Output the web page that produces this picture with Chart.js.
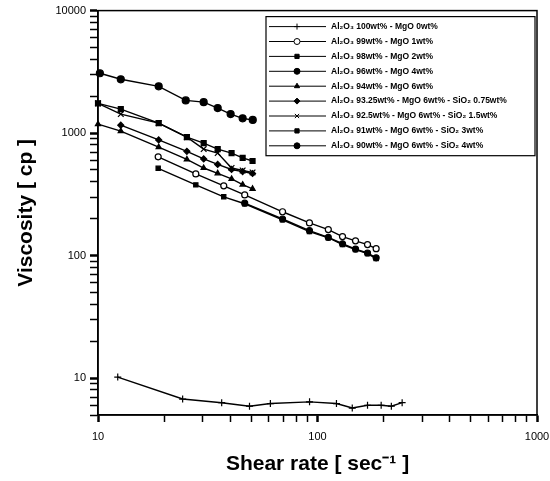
<!DOCTYPE html>
<html>
<head>
<meta charset="utf-8">
<script src="https://cdn.jsdelivr.net/npm/chart.js@4"></script>
<style>
  html, body { margin: 0; padding: 0; background: #fff; }
  #wrap { width: 550px; height: 481px; }
</style>
</head>
<body>
<div id="wrap"><canvas id="chart" width="550" height="481"></canvas></div>
<script>
// ------------------ Data ------------------
const seriesLabels = [
    "Al₂O₃ 100wt% - MgO 0wt%",
    "Al₂O₃ 99wt% - MgO 1wt%",
    "Al₂O₃ 98wt% - MgO 2wt%",
    "Al₂O₃ 96wt% - MgO 4wt%",
    "Al₂O₃ 94wt% - MgO 6wt%",
    "Al₂O₃ 93.25wt% - MgO 6wt% - SiO₂ 0.75wt%",
    "Al₂O₃ 92.5wt% - MgO 6wt% - SiO₂ 1.5wt%",
    "Al₂O₃ 91wt% - MgO 6wt% - SiO₂ 3wt%",
    "Al₂O₃ 90wt% - MgO 6wt% - SiO₂ 4wt%"
];

// shear rate [1/s]
const rate0 = [12.3, 24.3, 36.6, 49, 61, 92, 122, 144, 169, 195, 217, 243];
const rate1 = [18.8, 27.9, 37.4, 46.6, 69.3, 91.9, 112, 130, 149, 169, 185];
const rate2 = [18.8, 27.9, 37.4, 46.6, 69.3, 91.9, 112, 130, 149, 169, 185];
const rate3 = [46.6, 69.3, 91.9, 112, 130, 149, 169, 185];
const rate4 = [10, 12.7, 18.9, 25.4, 30.3, 35.1, 40.6, 45.6, 50.6];
const rate5 = [12.7, 18.9, 25.4, 30.3, 35.1, 40.6, 45.6, 50.6];
const rate6 = [10, 12.7, 18.9, 25.4, 30.3, 35.1, 40.6, 45.6, 50.6];
const rate7 = [10, 12.7, 18.9, 25.4, 30.3, 35.1, 40.6, 45.6, 50.6];
const rate8 = [10.2, 12.7, 18.9, 25.1, 30.3, 35.1, 40.2, 45.6, 50.7];

// viscosity [cp]
const visc0 = [10.2, 6.75, 6.3, 5.9, 6.2, 6.4, 6.2, 5.7, 6.0, 6.0, 5.9, 6.3];
const visc1 = [640, 464, 371, 313, 228, 185, 163, 143, 132, 123, 114];
const visc2 = [516, 378, 302, 265, 196, 157, 140, 123, 112, 104, 94.6];
const visc3 = [268, 199, 160, 141, 125, 113, 105, 96];
const visc4 = [1183, 1038, 769, 610, 519, 470, 423, 380, 351];
const visc5 = [1160, 880, 710, 615, 555, 505, 485, 468];
const visc6 = [1750, 1430, 1205, 927, 741, 687, 519, 495, 478];
const visc7 = [1750, 1570, 1205, 927, 829, 741, 687, 627, 592];
const visc8 = [3080, 2750, 2410, 1850, 1790, 1600, 1430, 1320, 1280];

const xTickLabels = [10, 100, 1000];
const yTickLabels = [10, 100, 1000, 10000];

const rates = [rate0, rate1, rate2, rate3, rate4, rate5, rate6, rate7, rate8];
const viscs = [visc0, visc1, visc2, visc3, visc4, visc5, visc6, visc7, visc8];

// marker per series
const markers = [
    { style: "cross", r: 3.5, fill: "#000" },
    { style: "circle", r: 3, fill: "#fff" },
    { style: "rect", r: 3, fill: "#000" },
    { style: "circle", r: 3, fill: "#000" },
    { style: "triangle", r: 3, fill: "#000" },
    { style: "rectRot", r: 3, fill: "#000" },
    { style: "crossRot", r: 4, fill: "#000" },
    { style: "rect", r: 3.5, fill: "#000" },
    { style: "circle", r: 3.5, fill: "#000" }
];

// log minor ticks 1..9 x 10^n between min and max
function logTicks(min, max) {
    const out = [];
    for (let p = 1; p <= 10000; p *= 10) {
        for (let m = 1; m < 10; m++) {
            const v = m * p;
            if (v >= min && v <= max) out.push(v);
        }
    }
    return out;
}

const datasets = seriesLabels.map((label, i) => ({
    label: label,
    data: rates[i].map((x, k) => ({ x: x, y: viscs[i][k] })),
    showLine: true,
    borderColor: "#000",
    borderWidth: 1.4,
    pointStyle: markers[i].style,
    pointRadius: markers[i].r,
    pointBackgroundColor: markers[i].fill,
    pointBorderColor: "#000",
    pointBorderWidth: 1.2,
    clip: false
}));

// ------------------ Plugins ------------------
const frame = {
    id: "frame",
    afterDraw(chart) {
        const { ctx, chartArea: a } = chart;
        ctx.save();
        ctx.strokeStyle = "#000";
        ctx.lineWidth = 1.5;
        ctx.strokeRect(a.left, a.top, a.right - a.left, a.bottom - a.top);
        ctx.restore();
    }
};

const boxLegend = {
    id: "boxLegend",
    afterDraw(chart) {
        const { ctx, chartArea: a } = chart;
        const left = a.right - 271, top = a.top + 6;
        const w = 269, rowH = 14.9, h = rowH * seriesLabels.length + 5;
        ctx.save();
        ctx.fillStyle = "#fff";
        ctx.fillRect(left, top, w, h);
        ctx.strokeStyle = "#000";
        ctx.lineWidth = 1.2;
        ctx.strokeRect(left, top, w, h);
        ctx.font = "bold 8.5px 'Liberation Sans', Arial";
        ctx.textBaseline = "middle";
        seriesLabels.forEach((label, i) => {
            const y = top + 10 + i * rowH;
            ctx.strokeStyle = "#000";
            ctx.lineWidth = 1;
            ctx.beginPath();
            ctx.moveTo(left + 3, y);
            ctx.lineTo(left + 60, y);
            ctx.stroke();
            ctx.fillStyle = markers[i].fill;
            ctx.lineWidth = 1;
            Chart.helpers.drawPoint(ctx, {
                pointStyle: markers[i].style,
                radius: Math.min(markers[i].r, 3),
                borderWidth: 1,
                rotation: 0
            }, left + 31, y);
            ctx.fillStyle = "#000";
            ctx.fillText(label, left + 65, y);
        });
        ctx.restore();
    }
};

// ------------------ Chart ------------------
new Chart(document.getElementById("chart"), {
    type: "scatter",
    data: { datasets: datasets },
    options: {
        responsive: false,
        animation: false,
        layout: { padding: { top: 9, right: 13, left: 0, bottom: 0 } },
        plugins: {
            legend: { display: false },
            tooltip: { enabled: false }
        },
        scales: {
            x: {
                type: "logarithmic",
                min: 10,
                max: 1000,
                afterBuildTicks: s => {
                    s.ticks = logTicks(10, 1000).map(v => ({ value: v, major: xTickLabels.includes(v) }));
                },
                afterFit: s => { s.height = 66; s.paddingLeft = 0; s.paddingRight = 0; },
                border: { display: true, color: "#000", width: 1.5 },
                grid: {
                    drawOnChartArea: false,
                    tickLength: 7,
                    tickColor: "#000",
                    tickWidth: c => (xTickLabels.includes(c.tick.value) ? 2.5 : 1.5)
                },
                ticks: {
                    autoSkip: false,
                    maxRotation: 0,
                    color: "#000",
                    font: { size: 11, family: "'Liberation Sans', Arial" },
                    padding: 8,
                    callback: v => (xTickLabels.includes(v) ? String(v) : "")
                },
                title: {
                    display: true,
                    text: "Shear rate [ sec⁻¹ ]",
                    color: "#000",
                    font: { size: 21, weight: "bold", family: "'Liberation Sans', Arial" },
                    padding: { top: 4 }
                }
            },
            y: {
                type: "logarithmic",
                min: 5,
                max: 10000,
                afterBuildTicks: s => {
                    s.ticks = logTicks(5, 10000).map(v => ({ value: v, major: yTickLabels.includes(v) }));
                },
                afterFit: s => { s.width = 98; },
                border: { display: true, color: "#000", width: 1.5 },
                grid: {
                    drawOnChartArea: false,
                    tickLength: 8,
                    tickColor: "#000",
                    tickWidth: c => (yTickLabels.includes(c.tick.value) ? 2.5 : 1.5)
                },
                ticks: {
                    autoSkip: false,
                    color: "#000",
                    font: { size: 11, family: "'Liberation Sans', Arial" },
                    padding: 4,
                    callback: v => (yTickLabels.includes(v) ? String(v) : "")
                },
                title: {
                    display: true,
                    text: "Viscosity [ cp ]",
                    color: "#000",
                    font: { size: 21, weight: "bold", family: "'Liberation Sans', Arial" },
                    padding: { top: 14, bottom: 0 }
                }
            }
        }
    },
    plugins: [frame, boxLegend]
});
</script>
</body>
</html>
